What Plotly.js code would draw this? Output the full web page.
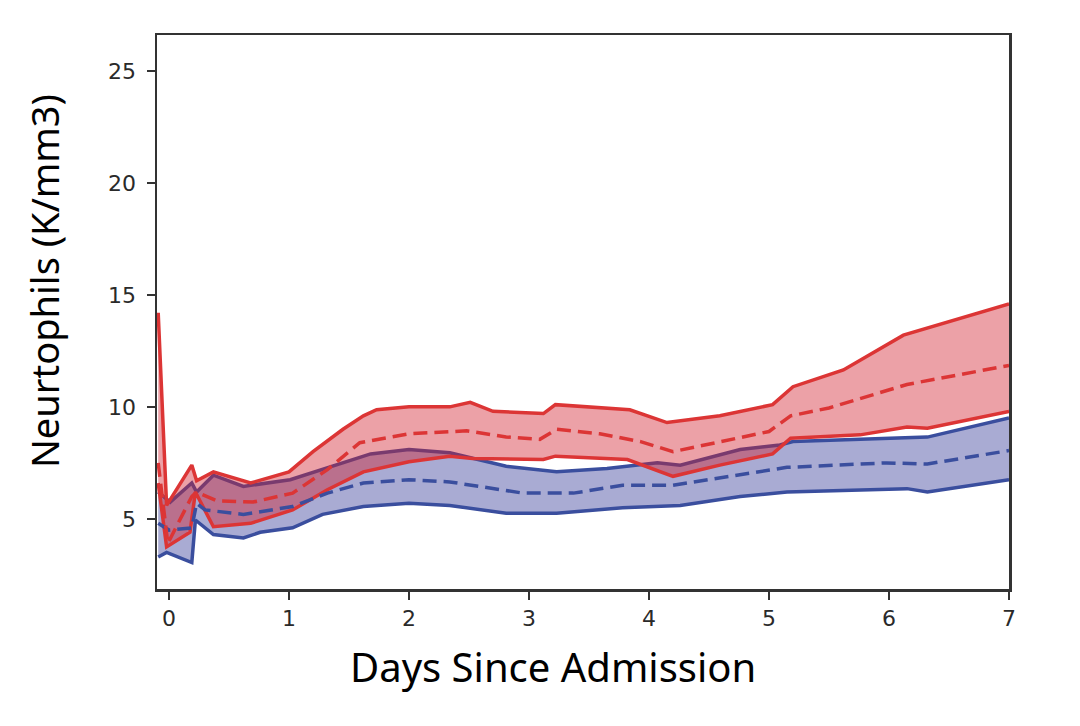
<!DOCTYPE html>
<html>
<head>
<meta charset="utf-8">
<script src="https://cdn.plot.ly/plotly-3.0.1.min.js"></script>
<style>
  html, body { margin: 0; padding: 0; background: #ffffff; }
  #chart { width: 1080px; height: 726px; }
</style>
</head>
<body>
<div id="chart"></div>
<script>
// values (days since admission, K/mm3)
var blueLowerX = [-0.09, -0.02, 0.19, 0.22, 0.37, 0.62, 0.76, 1.03, 1.28, 1.62, 2.0, 2.34, 2.81, 3.23, 3.78, 4.26, 4.76, 5.15, 6.15, 6.32, 7.0];
var blueLowerY = [3.3, 3.5, 3.05, 4.95, 4.3, 4.15, 4.4, 4.6, 5.2, 5.55, 5.7, 5.6, 5.25, 5.25, 5.5, 5.6, 6.0, 6.2, 6.35, 6.2, 6.75];

var blueUpperX = [-0.09, 0.01, 0.19, 0.23, 0.37, 0.62, 1.01, 1.32, 1.68, 2.0, 2.34, 2.81, 3.23, 3.65, 4.07, 4.26, 4.76, 5.09, 5.2, 6.32, 7.0];
var blueUpperY = [6.2, 5.75, 6.6, 6.2, 6.95, 6.45, 6.75, 7.3, 7.9, 8.1, 7.95, 7.35, 7.1, 7.25, 7.5, 7.4, 8.1, 8.3, 8.45, 8.65, 9.5];

var blueMeanX = [-0.09, 0.0, 0.19, 0.23, 0.3, 0.62, 1.03, 1.32, 1.62, 2.0, 2.34, 2.53, 2.95, 3.37, 3.78, 4.2, 4.76, 5.15, 5.98, 6.32, 7.0];
var blueMeanY = [4.8, 4.5, 4.6, 5.7, 5.4, 5.2, 5.55, 6.15, 6.6, 6.75, 6.65, 6.5, 6.15, 6.15, 6.5, 6.5, 6.95, 7.3, 7.5, 7.45, 8.05];

var redLowerX = [-0.09, -0.02, 0.175, 0.22, 0.37, 0.68, 1.03, 1.32, 1.62, 2.0, 2.34, 2.53, 3.12, 3.22, 3.82, 4.2, 4.59, 5.03, 5.18, 5.76, 6.15, 6.32, 7.0];
var redLowerY = [6.6, 3.75, 4.4, 6.2, 4.65, 4.8, 5.4, 6.3, 7.1, 7.55, 7.8, 7.7, 7.65, 7.8, 7.65, 6.9, 7.4, 7.9, 8.6, 8.75, 9.1, 9.05, 9.8];

var redUpperX = [-0.09, -0.02, 0.19, 0.23, 0.37, 0.68, 1.0, 1.2, 1.45, 1.62, 1.73, 2.0, 2.34, 2.51, 2.7, 3.12, 3.22, 3.84, 4.15, 4.59, 5.03, 5.2, 5.62, 6.12, 7.0];
var redUpperY = [14.2, 5.6, 7.4, 6.7, 7.1, 6.6, 7.1, 8.0, 9.0, 9.6, 9.87, 10.0, 10.0, 10.2, 9.8, 9.7, 10.1, 9.87, 9.3, 9.6, 10.1, 10.9, 11.65, 13.2, 14.6];

var redMeanX = [-0.09, -0.01, 0.19, 0.23, 0.4, 0.7, 1.03, 1.32, 1.59, 2.0, 2.48, 2.81, 3.09, 3.23, 3.59, 3.93, 4.2, 4.76, 5.0, 5.18, 5.5, 6.15, 7.0];
var redMeanY = [7.5, 3.9, 6.0, 6.2, 5.8, 5.75, 6.15, 7.2, 8.4, 8.8, 8.93, 8.66, 8.55, 9.0, 8.8, 8.45, 8.0, 8.65, 8.9, 9.6, 9.95, 11.0, 11.85];

var xTicks = [0, 1, 2, 3, 4, 5, 6, 7];
var yTicks = [5, 10, 15, 20, 25];

var blueLine = '#3a4e9e';
var blueFill = 'rgba(60, 64, 155, 0.44)';
var redLine = '#dc3535';
var redFill = 'rgba(210, 30, 45, 0.42)';

function band_trace(x, y, color, fill) {
  var trace = {
    x: x,
    y: y,
    mode: 'lines',
    type: 'scatter',
    line: { color: color, width: 3.5 },
    hoverinfo: 'skip',
    showlegend: false
  };
  if (fill) {
    trace.fill = 'tonexty';
    trace.fillcolor = fill;
  }
  return trace;
}

function mean_trace(x, y, color) {
  return {
    x: x,
    y: y,
    mode: 'lines',
    type: 'scatter',
    line: { color: color, width: 3.5, dash: '14px,7px' },
    hoverinfo: 'skip',
    showlegend: false
  };
}

var data = [
  band_trace(blueLowerX, blueLowerY, blueLine, null),
  band_trace(blueUpperX, blueUpperY, blueLine, blueFill),
  band_trace(redLowerX, redLowerY, redLine, null),
  band_trace(redUpperX, redUpperY, redLine, redFill),
  mean_trace(blueMeanX, blueMeanY, blueLine),
  mean_trace(redMeanX, redMeanY, redLine)
];

var axisCommon = {
  showgrid: false,
  zeroline: false,
  showline: true,
  mirror: true,
  linecolor: '#333333',
  linewidth: 2.5,
  ticks: 'outside',
  ticklen: 8,
  tickwidth: 2,
  tickcolor: '#333333',
  tickfont: { family: 'DejaVu Sans, sans-serif', size: 22, color: '#2a2a2a' }
};

var layout = {
  width: 1080,
  height: 726,
  margin: { l: 157, r: 71, t: 35, b: 137, pad: 0 },
  paper_bgcolor: '#ffffff',
  plot_bgcolor: '#ffffff',
  xaxis: Object.assign({}, axisCommon, {
    range: [-0.1, 7.0],
    tickvals: xTicks,
    ticktext: xTicks.map(String)
  }),
  yaxis: Object.assign({}, axisCommon, {
    range: [1.87, 26.6],
    tickvals: yTicks,
    ticktext: yTicks.map(String),
    ticklabelstandoff: 6
  }),
  annotations: [
    {
      text: 'Days Since Admission',
      xref: 'paper', yref: 'paper',
      x: (553 - 157) / (1009 - 157), y: -0.139,
      xanchor: 'center', yanchor: 'middle',
      showarrow: false,
      font: { family: 'Noto Sans, sans-serif', size: 40, color: '#000000' }
    },
    {
      text: 'Neurtophils (K/mm3)',
      xref: 'paper', yref: 'paper',
      x: -0.1326, y: (589 - 281) / (589 - 35),
      xanchor: 'center', yanchor: 'middle',
      textangle: -90,
      showarrow: false,
      font: { family: 'Noto Sans, sans-serif', size: 38, color: '#000000' }
    }
  ]
};

var config = { staticPlot: true, displayModeBar: false };

Plotly.newPlot('chart', data, layout, config);
</script>
</body>
</html>
